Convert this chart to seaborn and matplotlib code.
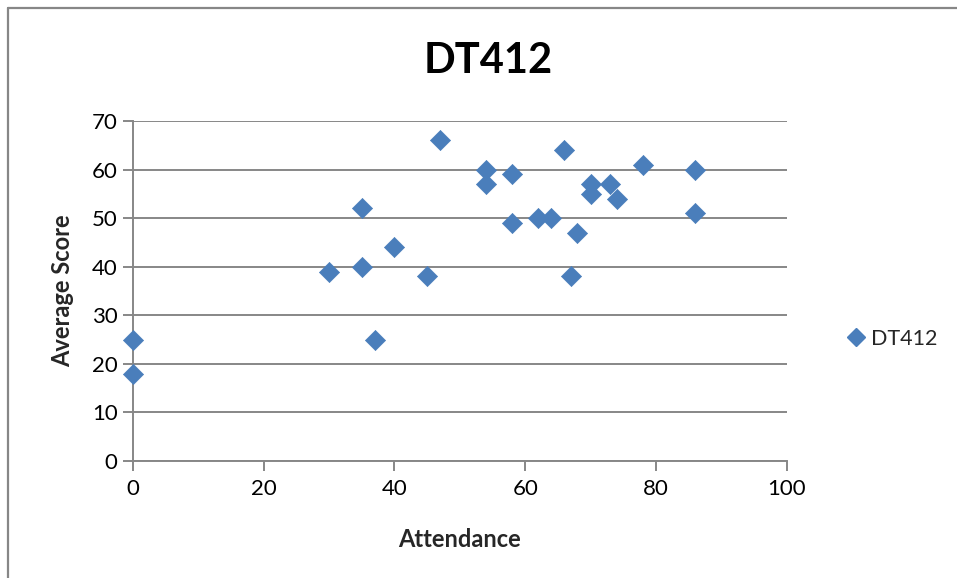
import matplotlib
matplotlib.use("Agg")
import matplotlib.pyplot as plt
import seaborn as sns
import pandas as pd
from matplotlib.lines import Line2D

attendance = [0, 0, 30, 35, 35, 37, 40, 45, 47, 54, 54, 58, 58, 62, 64,
              66, 67, 68, 70, 70, 73, 74, 78, 86, 86]
avg_score = [25, 18, 39, 52, 40, 25, 44, 38, 66, 60, 57, 59, 49, 50, 50,
             64, 38, 47, 57, 55, 57, 54, 61, 60, 51]
series_name = "DT412"
x_ticks = [0, 20, 40, 60, 80, 100]
y_ticks = [0, 10, 20, 30, 40, 50, 60, 70]

df = pd.DataFrame({"Attendance": attendance, "Average Score": avg_score})

sns.set_theme(style="white")
plt.rcParams["font.family"] = ["Lato", "DejaVu Sans"]

blue = "#4A7EBB"
grid_c = "#878787"

fig = plt.figure(figsize=(9.57, 5.78), dpi=100)
ax = fig.add_axes([0.139, 0.2024, 0.683, 0.5883])

ax.set_xlim(0, 100)
ax.set_ylim(0, 70)
ax.set_xticks(x_ticks)
ax.set_yticks(y_ticks)

ax.yaxis.grid(True, color=grid_c, linewidth=1.4)
ax.xaxis.grid(False)
ax.set_axisbelow(True)

sns.scatterplot(data=df, x="Attendance", y="Average Score", marker="D",
                s=105, color=blue, edgecolor=blue, linewidth=0.5,
                ax=ax, legend=False, clip_on=False, zorder=3)

for side in ["top", "right"]:
    ax.spines[side].set_visible(False)
for side in ["left", "bottom"]:
    ax.spines[side].set_color(grid_c)
    ax.spines[side].set_linewidth(1.4)

ax.tick_params(axis="both", which="major", direction="out", length=7,
               width=1.4, color=grid_c, labelsize=16, labelcolor="black",
               left=True, bottom=True)
ax.tick_params(axis="x", pad=6)
ax.tick_params(axis="y", pad=4)

ax.set_xlabel("Attendance", fontsize=17, fontweight="bold", labelpad=21)
ax.set_ylabel("Average Score", fontsize=17, fontweight="bold", labelpad=13)

fig.text(0.510, 0.895, series_name, fontsize=30, fontweight="bold",
         ha="center", va="center", color="black")

handle = Line2D([], [], marker="D", linestyle="none", markersize=9.5,
                markerfacecolor=blue, markeredgecolor=blue)
fig.legend([handle], [series_name], loc="center left",
           bbox_to_anchor=(0.872, 0.4135), frameon=False, fontsize=15.5,
           handletextpad=0.1, borderaxespad=0, handlelength=1.2)

# chart frame along the top and left edges
fig.add_artist(Line2D([0.0085, 1.0], [0.9855, 0.9855], transform=fig.transFigure,
                      color=grid_c, linewidth=1.6))
fig.add_artist(Line2D([0.0085, 0.0085], [0.0, 0.9855], transform=fig.transFigure,
                      color=grid_c, linewidth=1.6))

fig.savefig("out.png", dpi=100, facecolor="white")
